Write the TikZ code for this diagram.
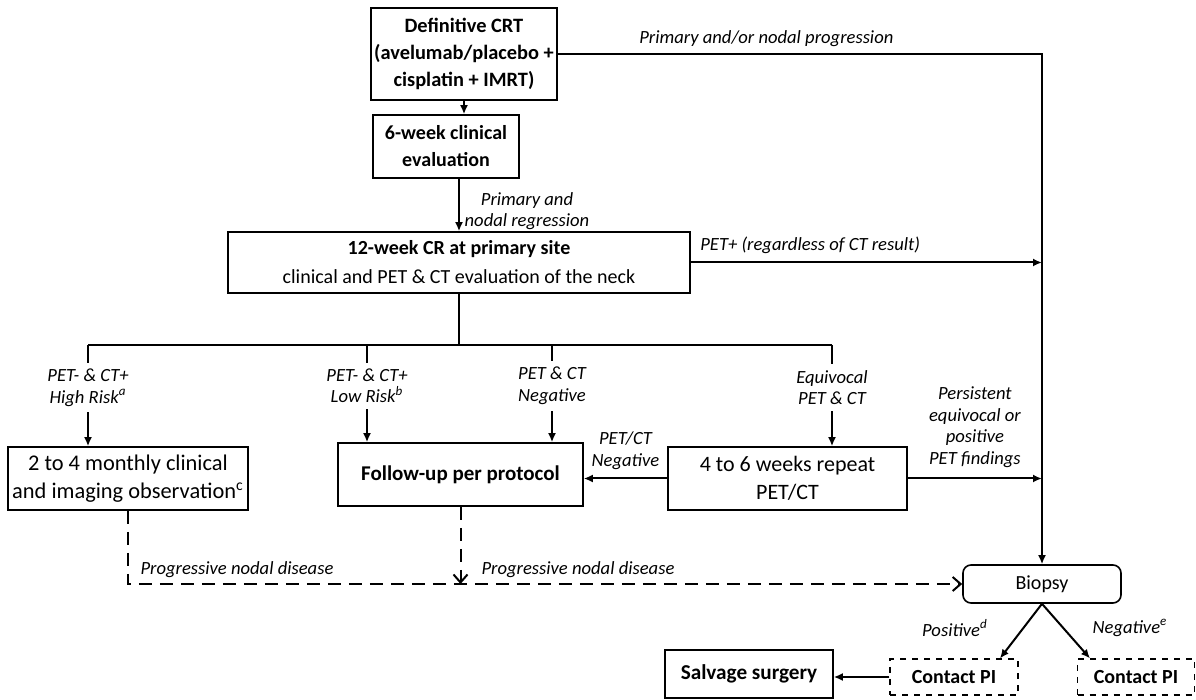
\documentclass[tikz,border=0pt]{standalone}
\usepackage{fontspec}
\setmainfont{Carlito}
\usepackage{tikz}
\usetikzlibrary{positioning,arrows.meta,calc}

\begin{document}
\begin{tikzpicture}[x=0.5pt, y=-0.5pt,
  box/.style={draw, line width=0.8pt, align=center, inner sep=1pt, font=\fontsize{10}{13.5}\selectfont},
  dbox/.style={box, dashed, line width=0.6pt},
  lbl/.style={font=\fontsize{9.3}{10.8}\selectfont\itshape, align=center, inner sep=1pt},
  arr/.style={-{Latex[length=4.5pt,width=4pt]}, line width=1pt},
  dsh/.style={line width=1pt, dash pattern=on 6.5pt off 4pt}]
\useasboundingbox (0,0) rectangle (1196,700);
% boxes
\node[box, line width=1.4pt, font=\fontsize{10.2}{13.5}\selectfont\bfseries, minimum width=93pt, minimum height=46pt] (crt) at (464,54) {Definitive CRT\\(avelumab/placebo +\\cisplatin + IMRT)};
\node[box, font=\fontsize{10}{13.5}\selectfont\bfseries, minimum width=73pt, minimum height=31.5pt] (eval6) at (446,146.5) {6-week clinical\\evaluation};
\node[box, font=\fontsize{10}{14.5}\selectfont, minimum width=231pt, minimum height=30.5pt] (wk12) at (459,262.5) {\textbf{12-week CR at primary site}\\clinical and PET \& CT evaluation of the neck};
\node[box, font=\fontsize{11.2}{14}\selectfont, minimum width=120pt, minimum height=31.5pt] (mon) at (128,478.5) {2 to 4 monthly clinical\\and imaging observation\textsuperscript{c}};
\node[box, font=\fontsize{10.5}{14}\selectfont\bfseries, minimum width=122.5pt, minimum height=31.5pt] (fup) at (460.5,474.5) {Follow-up per protocol};
\node[box, font=\fontsize{11}{14}\selectfont, minimum width=119.5pt, minimum height=31.5pt] (rep) at (787.5,478.5) {4 to 6 weeks repeat\\PET/CT};
\node[box, rounded corners=4pt, minimum width=79pt, minimum height=19pt] (biopsy) at (1042,584) {Biopsy};
\node[dbox, font=\fontsize{10}{12}\selectfont\bfseries, minimum width=64pt, minimum height=18pt] (cpi1) at (954,677) {Contact PI};
\node[dbox, font=\fontsize{10}{12}\selectfont\bfseries, minimum width=58.5pt, minimum height=18pt] (cpi2) at (1136,677) {Contact PI};
\node[box, font=\fontsize{10.6}{12}\selectfont\bfseries, minimum width=84pt, minimum height=24pt] (salv) at (749,674) {Salvage surgery};
% branch points
\coordinate (br) at (459,345);
\coordinate (b1) at (88,345);
\coordinate (b2) at (367,345);
\coordinate (b3) at (552,345);
\coordinate (b4) at (832,345);
\coordinate (fj) at (fup.south |- biopsy.west);
% connectors
\draw[arr] (crt.south) -- (crt.south |- eval6.north);
\draw[arr] (wk12.north |- eval6.south) -- (wk12.north);
\node[lbl] (lreg) at (527,211) {Primary and\\nodal regression};
\draw[arr] (crt.east) -- node[lbl, above=2pt, pos=0.43] (lprog) {Primary and/or nodal progression} (crt.east -| biopsy.north) -- (biopsy.north);
\draw[arr] (wk12.east) -- node[lbl, above=3pt, pos=0.34] (lpetp) {PET+ (regardless of CT result)} (wk12.east -| biopsy.north);
\draw[line width=1pt] (wk12.south) -- (br);
\draw[line width=1pt] (b1) -- (b4);
\draw[arr] (b1) -- node[lbl, fill=white, inner sep=3pt, pos=0.42] (lhigh) {PET- \& CT+\\High Risk\textsuperscript{a}} (b1 |- mon.north);
\draw[arr] (b2) -- node[lbl, fill=white, inner sep=3pt, pos=0.42] (llow) {PET- \& CT+\\Low Risk\textsuperscript{b}} (b2 |- fup.north);
\draw[arr] (b3) -- node[lbl, fill=white, inner sep=3pt, pos=0.42] (lnegall) {PET \& CT\\Negative} (b3 |- fup.north);
\draw[arr] (b4) -- node[lbl, fill=white, inner sep=3pt, pos=0.42] (lequ) {Equivocal\\PET \& CT} (b4 |- rep.north);
\draw[arr] (rep.west) -- node[lbl, above=3pt] (lpetneg) {PET/CT\\Negative} (rep.west -| fup.east);
\draw[arr] (rep.east) -- node[lbl, above=4pt] (lpers) {Persistent\\equivocal or\\positive\\PET findings} (rep.east -| biopsy.north);
% progression
\draw[dsh, -{Straight Barb[length=4pt,width=7pt]}] (mon.south) |- (biopsy.west);
\draw[dsh, -{Straight Barb[length=4pt,width=7pt]}] (fup.south) -- (fj);
\node[lbl] (ldis1) at (237,570) {Progressive nodal disease};
\node[lbl] (ldis2) at (578,570) {Progressive nodal disease};
% biopsy result
\draw[arr] (biopsy.south) -- ([xshift=23pt]cpi1.north);
\draw[arr] (biopsy.south) -- ([xshift=-23pt]cpi2.north);
\node[lbl] (lpos) at (955,628) {Positive\textsuperscript{d}};
\node[lbl] (lneg) at (1130,628) {Negative\textsuperscript{e}};
\draw[arr] (cpi1.west) -- (cpi1.west -| salv.east);
\end{tikzpicture}
\end{document}
